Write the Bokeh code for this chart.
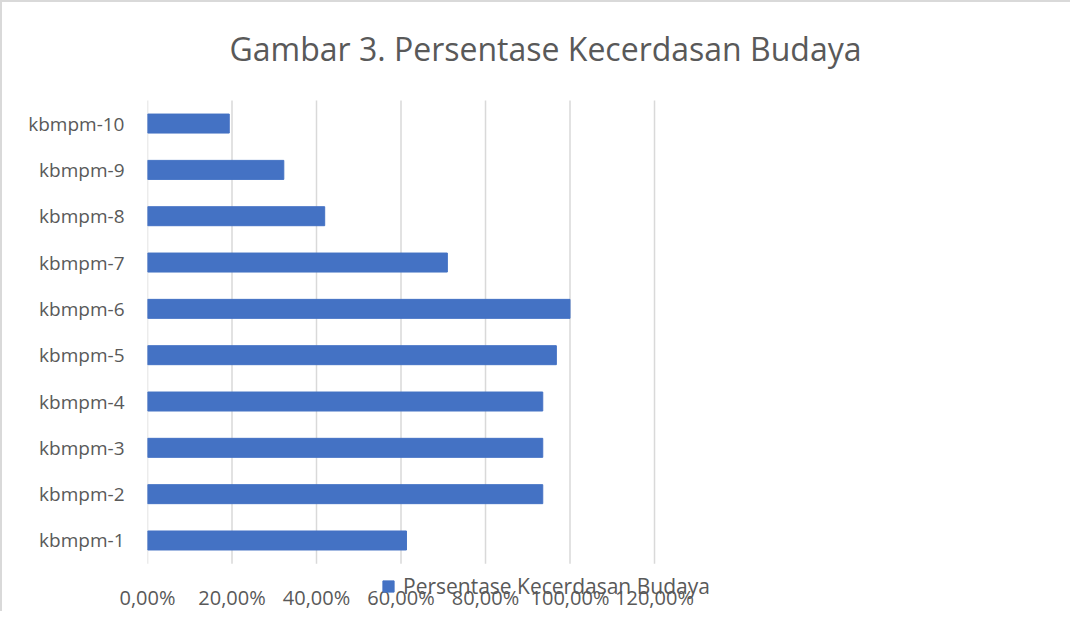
from bokeh.plotting import figure
from bokeh.models import (ColumnDataSource, Range1d, FixedTicker,
                          Title, Legend, LegendItem)
from bokeh.embed import file_html
from bokeh.resources import INLINE

# ---- data ----
categories = ["kbmpm-1", "kbmpm-2", "kbmpm-3", "kbmpm-4", "kbmpm-5",
              "kbmpm-6", "kbmpm-7", "kbmpm-8", "kbmpm-9", "kbmpm-10"]
values = [61.29, 93.55, 93.55, 93.55, 96.77, 100.0, 70.97, 41.94, 32.26, 19.35]
x_ticks = [0, 20, 40, 60, 80, 100, 120]
x_tick_labels = ["0,00%", "20,00%", "40,00%", "60,00%", "80,00%", "100,00%", "120,00%"]
series_name = "Persentase Kecerdasan Budaya"
title_text = "Gambar 3. Persentase Kecerdasan Budaya"

TEXT = "#595959"
FONT = "Open Sans"
BAR = "#4472c4"
GRID = "#d9d9d9"

# ordinal slot of each category (bottom to top)
slots = list(range(1, len(categories) + 1))
src = ColumnDataSource(dict(y=slots, val=values, cat=categories))

# plot area also holds the legend row below the bars; the wide right part stays empty
# so title/legend centre over the whole chart area as in the original
p = figure(width=1070, height=611, output_backend="svg", toolbar_location=None,
           title=None,
           x_range=Range1d(0, 188.4), y_range=Range1d(-0.317, 11.059),
           min_border_left=145, min_border_right=129,
           min_border_top=72, min_border_bottom=10)
p.styles = {"border-top": "2px solid #d9d9d9", "border-left": "2px solid #d9d9d9"}
p.outline_line_color = None
p.background_fill_color = "white"
p.border_fill_color = "white"
p.xgrid.visible = False
p.ygrid.visible = False

# vertical gridlines spanning the category band only
band_lo, band_hi = slots[0] - 0.5, slots[-1] + 0.5
p.segment(x0=x_ticks, x1=x_ticks, y0=[band_lo] * len(x_ticks), y1=[band_hi] * len(x_ticks),
          line_color=GRID, line_width=1.5)

r = p.hbar(y="y", right="val", left=0, height=0.41, source=src,
           fill_color=BAR, line_color=BAR)

# axes
xaxis = p.xaxis[0]
yaxis = p.yaxis[0]
xaxis.ticker = FixedTicker(ticks=x_ticks)
xaxis.major_label_overrides = {t: s for t, s in zip(x_ticks, x_tick_labels)}
yaxis.ticker = FixedTicker(ticks=slots)
yaxis.major_label_overrides = {s: c for s, c in zip(slots, categories)}
for ax in (xaxis, yaxis):
    ax.axis_line_color = None
    ax.major_tick_line_color = None
    ax.minor_tick_line_color = None
    ax.major_tick_out = 0
    ax.major_tick_in = 0
    ax.major_label_text_color = TEXT
    ax.major_label_text_font = FONT
xaxis.major_label_text_font_size = "20px"
yaxis.major_label_text_font_size = "19px"
xaxis.major_label_standoff = -18
yaxis.major_label_standoff = 23

# legend (inside the plot area, under the bars)
legend = Legend(items=[LegendItem(label=series_name, renderers=[r])],
                location=(234, 1), orientation="horizontal",
                padding=0, margin=0, spacing=0, label_standoff=8,
                glyph_width=14, glyph_height=14,
                label_text_font=FONT, label_text_font_size="21px",
                label_text_color=TEXT, background_fill_alpha=0,
                border_line_color=None)
p.add_layout(legend, "center")

# title
t = Title(text=title_text, align="center", text_font=FONT,
          text_font_size="32px", text_font_style="normal", text_color=TEXT)
p.add_layout(t, "above")

open("out.html", "w").write(file_html(p, INLINE))
